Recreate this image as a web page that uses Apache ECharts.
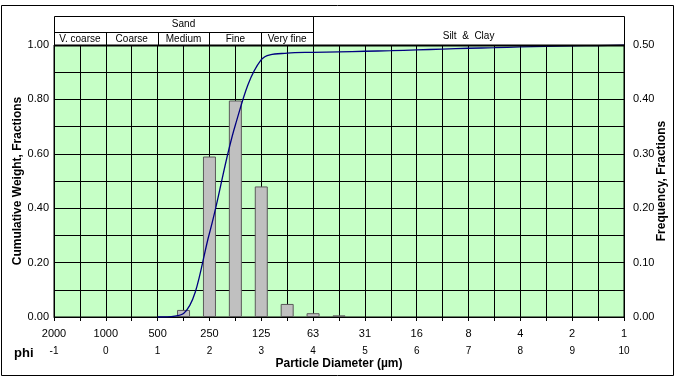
<!DOCTYPE html>
<html>
<head>
<meta charset="utf-8">
<script src="https://cdn.jsdelivr.net/npm/echarts@6/dist/echarts.min.js"></script>
<style>
html,body{margin:0;padding:0;background:#fff;}
#c{width:678px;height:379px;}
</style>
</head>
<body>
<div id="c"></div>
<script>
// ---- data ----
var diameterLabels = ['2000','1000','500','250','125','63','31','16','8','4','2','1'];
var phiLabels = ['-1','0','1','2','3','4','5','6','7','8','9','10'];
var barPhi = [1.5, 2, 2.5, 3, 3.5, 4, 4.5];
var frequency = [0.013, 0.295, 0.398, 0.240, 0.024, 0.007, 0.003];
var cumPhi = [1, 1.5, 2, 2.5, 3, 3.5, 4, 4.5, 5, 5.5, 6, 6.5, 7, 7.5, 8, 8.5, 9, 9.5, 10];
var cumulative = [0, 0.013, 0.308, 0.706, 0.946, 0.970, 0.973, 0.975, 0.977, 0.979, 0.982, 0.985, 0.988, 0.990, 0.993, 0.995, 0.997, 0.998, 1.0];
var sandClasses = ['V. coarse', 'Coarse', 'Medium', 'Fine', 'Very fine'];
var sandClassStart = [-1, 0, 1, 2, 3];
var sandClassEnd = [0, 1, 2, 3, 4];

var FONT = '"Liberation Sans", Arial, sans-serif';
var chart = echarts.init(document.getElementById('c'), null, {renderer: 'canvas'});

var barData = barPhi.map(function (p, i) { return [p, frequency[i]]; });
var lineData = cumPhi.map(function (p, i) { return [p, cumulative[i]]; });

var option = {
  animation: false,
  backgroundColor: '#ffffff',
  grid: {
    left: 54, right: 54, top: 45, bottom: 62,
    containLabel: false, outerBoundsMode: 'none',
    show: true, backgroundColor: '#C6FFC6', borderColor: '#000', borderWidth: 1
  },
  xAxis: [{
    type: 'value', min: -1, max: 10, interval: 0.5, position: 'bottom',
    axisLine: {show: true, onZero: false, lineStyle: {color: '#000', width: 1}},
    axisTick: {show: true, length: 4, lineStyle: {color: '#000'}},
    splitLine: {show: true, lineStyle: {color: '#000', width: 1}},
    axisLabel: {
      margin: 11, color: '#000', fontFamily: FONT, fontSize: 11,
      formatter: function (v) { return Number.isInteger(v) ? diameterLabels[v + 1] : ''; }
    },
    name: 'Particle Diameter (µm)', nameLocation: 'middle', nameGap: 41, nameMoveOverlap: false,
    nameTextStyle: {color: '#000', fontFamily: FONT, fontSize: 12, fontWeight: 'bold'}
  }, {
    type: 'value', min: -1, max: 10, interval: 0.5, position: 'bottom', offset: 18,
    axisLine: {show: false}, axisTick: {show: false}, splitLine: {show: false},
    axisLabel: {
      margin: 11, color: '#000', fontFamily: FONT, fontSize: 10,
      formatter: function (v) { return Number.isInteger(v) ? phiLabels[v + 1] : ''; }
    }
  }],
  yAxis: [{
    type: 'value', min: 0, max: 1, interval: 0.1, position: 'left',
    axisLine: {show: true, lineStyle: {color: '#000'}},
    axisTick: {show: true, length: 4, lineStyle: {color: '#000'}},
    splitLine: {show: true, lineStyle: {color: '#000', width: 1}},
    axisLabel: {
      margin: 5, color: '#000', fontFamily: FONT, fontSize: 11,
      formatter: function (v) { var k = Math.round(v * 10); return k % 2 === 0 ? v.toFixed(2) : ''; }
    },
    name: 'Cumulative Weight, Fractions', nameLocation: 'middle', nameGap: 30, nameRotate: 90, nameMoveOverlap: false,
    nameTextStyle: {color: '#000', fontFamily: FONT, fontSize: 12, fontWeight: 'bold'}
  }, {
    type: 'value', min: 0, max: 0.5, interval: 0.1, position: 'right',
    axisLine: {show: true, lineStyle: {color: '#000'}},
    axisTick: {show: false},
    splitLine: {show: false},
    axisLabel: {
      margin: 9, color: '#000', fontFamily: FONT, fontSize: 11,
      formatter: function (v) { return v.toFixed(2); }
    },
    name: 'Frequency, Fractions', nameLocation: 'middle', nameGap: 32, nameRotate: 90, nameMoveOverlap: false,
    nameTextStyle: {color: '#000', fontFamily: FONT, fontSize: 12, fontWeight: 'bold'}
  }],
  series: [{
    type: 'bar', xAxisIndex: 0, yAxisIndex: 1, data: barData, barWidth: 13,
    itemStyle: {color: '#C0C0C0', borderColor: '#5a5a5a', borderWidth: 1}
  }, {
    type: 'line', xAxisIndex: 0, yAxisIndex: 0, data: lineData,
    smooth: 0.35, showSymbol: false, symbol: 'none',
    lineStyle: {color: '#000080', width: 1.3}, z: 5
  }]
};
chart.setOption(option);

// header boxes computed from axis scale
function px(phi) { return chart.convertToPixel({xAxisIndex: 0}, phi); }
var topY = 16, midY = 32, botY = 45;
var g = [];
g.push({type: 'rect', shape: {x: 1.5, y: 5.5, width: 672, height: 370}, style: {fill: null, stroke: '#000', lineWidth: 1}, z: 100});
var s0 = px(-1), s1 = px(4), s2 = px(10);
g.push({type: 'rect', shape: {x: Math.round(s0) + 0.5, y: topY + 0.5, width: Math.round(s1) - Math.round(s0), height: botY - topY}, style: {fill: '#fff', stroke: '#000', lineWidth: 1}});
g.push({type: 'line', shape: {x1: Math.round(s0), y1: midY + 0.5, x2: Math.round(s1), y2: midY + 0.5}, style: {stroke: '#000', lineWidth: 1}});
g.push({type: 'text', style: {x: (s0 + s1) / 2, y: 24, text: 'Sand', align: 'center', verticalAlign: 'middle', font: '10px ' + FONT, fill: '#000'}});
for (var i = 0; i < sandClasses.length; i++) {
  var a = px(sandClassStart[i]), b = px(sandClassEnd[i]);
  if (i > 0) g.push({type: 'line', shape: {x1: Math.round(a) + 0.5, y1: midY, x2: Math.round(a) + 0.5, y2: botY}, style: {stroke: '#000', lineWidth: 1}});
  g.push({type: 'text', style: {x: (a + b) / 2, y: 39, text: sandClasses[i], align: 'center', verticalAlign: 'middle', font: '10px ' + FONT, fill: '#000'}});
}
g.push({type: 'rect', shape: {x: Math.round(s1) + 0.5, y: topY + 0.5, width: Math.round(s2) - Math.round(s1), height: botY - topY}, style: {fill: '#fff', stroke: '#000', lineWidth: 1}});
g.push({type: 'text', style: {x: (s1 + s2) / 2, y: 36, text: 'Silt  &  Clay', align: 'center', verticalAlign: 'middle', font: '10px ' + FONT, fill: '#000'}});
g.push({type: 'line', shape: {x1: Math.round(s0), y1: botY + 0.5, x2: Math.round(s2) + 1, y2: botY + 0.5}, style: {stroke: '#000', lineWidth: 2}, z: 50});
g.push({type: 'text', style: {x: 14, y: 353, text: 'phi', align: 'left', verticalAlign: 'middle', font: 'bold 13px ' + FONT, fill: '#000'}});
chart.setOption({graphic: g});
</script>
</body>
</html>
